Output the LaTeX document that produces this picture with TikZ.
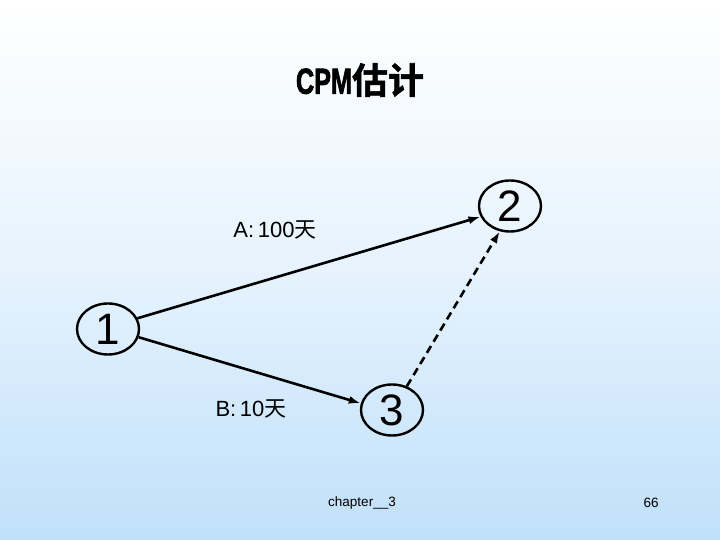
\documentclass[tikz,border=0pt]{standalone}
\usepackage{fontspec}
\setmainfont{Liberation Sans}
\newfontfamily\cjk{Noto Sans CJK SC}
\newfontfamily\cjkb{Noto Sans CJK SC Bold}[FakeBold=1.5]
\newfontfamily\titlelat{Liberation Sans Bold}[FakeBold=2.5]
\usetikzlibrary{shapes.geometric,arrows.meta}
\definecolor{bgblue}{RGB}{192,224,250}
\tikzset{
  evt/.style={draw=black,line width=2.4pt,ellipse,minimum width=62pt,minimum height=51pt,inner sep=0pt,font=\fontsize{44}{44}\selectfont},
  act/.style={draw=black,line width=2.6pt,-{Latex[length=12pt,width=8pt]}},
  dummy/.style={act,dash pattern=on 8pt off 5pt},
  lbl/.style={font=\fontsize{22}{22}\selectfont,inner sep=0pt},
  foot/.style={font=\fontsize{13.5}{13.5}\selectfont,inner sep=0pt}
}
\begin{document}
\begin{tikzpicture}[x=1pt,y=-1pt]
\shade[top color=white,bottom color=bgblue,middle color=bgblue!40] (0,0) rectangle (720,540);
\useasboundingbox (0,0) rectangle (720,540);
\node[inner sep=0pt] (title) at (360,80) {\fontsize{36}{36}\selectfont\scalebox{0.7}[1]{\titlelat CPM}{\cjkb 估计}};
\node[evt] (n1) at (108,329) {1};
\node[evt] (n2) at (510,206) {2};
\node[evt] (n3) at (392,410) {3};
\draw[act] (n1.20) -- (n2.200);
\draw[act] (n1.-15) -- (n3.168);
\draw[dummy] (n3.58) -- (n2.-112);
\node[lbl] (la) at (275,230) {A:\,100{\cjk 天}};
\node[lbl] (lb) at (251,409) {B:\,10{\cjk 天}};
\node[foot] (f1) at (362,503) {chapter\_\_3};
\node[foot] (f2) at (651,503) {66};
\end{tikzpicture}
\end{document}
